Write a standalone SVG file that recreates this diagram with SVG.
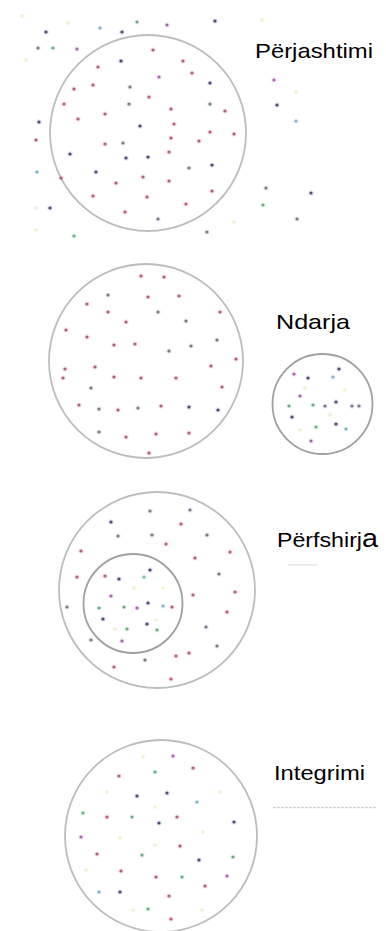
<svg xmlns="http://www.w3.org/2000/svg" width="386" height="931" viewBox="0 0 386 931">
<style>
.ring{fill:none;stroke:#bdbdbd;stroke-width:1.8}
.ring2{fill:none;stroke:#a0a0a0;stroke-width:1.8}
.lbl{font-family:"Liberation Sans",Arial,sans-serif;font-size:21px;fill:#000}
circle.d{stroke-width:2.4;stroke-opacity:.2}
.r{fill:#a8566e;stroke:#e08aa0}
.n{fill:#3e3e66;stroke:#8080b0}
.g{fill:#62a47c;stroke:#9ad0a8}
.p{fill:#9c5ca4;stroke:#d090d8}
.t{fill:#78aab6;stroke:#a8d4dc}
.k{fill:#6e6e80;stroke:#a8a8b8}
.y{fill:#f1f0d4;stroke:#f6f6e4}
</style>
<rect width="386" height="931" fill="#fff"/>

<g id="perjashtimi">
<circle class="ring" cx="148" cy="133" r="98"/>
<g>
<circle class="d r" cx="153" cy="50" r="1.6"/><circle class="d n" cx="121" cy="61" r="1.6"/><circle class="d r" cx="183" cy="61" r="1.6"/>
<circle class="d r" cx="98" cy="67" r="1.6"/><circle class="d p" cx="159" cy="77" r="1.6"/><circle class="d r" cx="192" cy="73" r="1.6"/>
<circle class="d n" cx="210" cy="83" r="1.6"/><circle class="d r" cx="93" cy="85" r="1.6"/><circle class="d r" cx="74" cy="89" r="1.6"/>
<circle class="d k" cx="130" cy="87" r="1.6"/><circle class="d r" cx="149" cy="97" r="1.6"/><circle class="d r" cx="64" cy="104" r="1.6"/>
<circle class="d k" cx="129" cy="104" r="1.6"/><circle class="d k" cx="210" cy="104" r="1.6"/><circle class="d r" cx="105" cy="114" r="1.6"/>
<circle class="d r" cx="171" cy="109" r="1.6"/><circle class="d r" cx="225" cy="111" r="1.6"/><circle class="d r" cx="78" cy="119" r="1.6"/>
<circle class="d r" cx="174" cy="124" r="1.6"/><circle class="d n" cx="140" cy="126" r="1.6"/><circle class="d r" cx="210" cy="132" r="1.6"/>
<circle class="d r" cx="234" cy="134" r="1.6"/><circle class="d r" cx="171" cy="138" r="1.6"/><circle class="d r" cx="199" cy="141" r="1.6"/>
<circle class="d r" cx="105" cy="144" r="1.6"/><circle class="d k" cx="123" cy="143" r="1.6"/><circle class="d n" cx="70" cy="154" r="1.6"/>
<circle class="d r" cx="169" cy="152" r="1.6"/><circle class="d n" cx="126" cy="158" r="1.6"/><circle class="d n" cx="148" cy="157" r="1.6"/>
<circle class="d k" cx="189" cy="168" r="1.6"/><circle class="d n" cx="212" cy="165" r="1.6"/><circle class="d n" cx="96" cy="172" r="1.6"/>
<circle class="d r" cx="61" cy="178" r="1.6"/><circle class="d r" cx="143" cy="177" r="1.6"/><circle class="d r" cx="116" cy="183" r="1.6"/>
<circle class="d r" cx="169" cy="181" r="1.6"/><circle class="d r" cx="93" cy="196" r="1.6"/><circle class="d r" cx="147" cy="197" r="1.6"/>
<circle class="d r" cx="212" cy="191" r="1.6"/><circle class="d r" cx="186" cy="204" r="1.6"/><circle class="d r" cx="125" cy="212" r="1.6"/>
<circle class="d k" cx="158" cy="219" r="1.6"/>
</g>
<g>
<circle class="d n" cx="46" cy="32" r="1.6"/><circle class="d t" cx="100" cy="28" r="1.6"/><circle class="d n" cx="122" cy="32" r="1.6"/>
<circle class="d g" cx="137" cy="22" r="1.6"/><circle class="d p" cx="167" cy="25" r="1.6"/><circle class="d n" cx="215" cy="21" r="1.6"/>
<circle class="d k" cx="38" cy="48" r="1.6"/><circle class="d g" cx="53" cy="48" r="1.6"/><circle class="d p" cx="77" cy="49" r="1.6"/>
<circle class="d p" cx="274" cy="80" r="1.6"/><circle class="d n" cx="277" cy="105" r="1.6"/><circle class="d t" cx="296" cy="121" r="1.6"/>
<circle class="d n" cx="39" cy="122" r="1.6"/><circle class="d r" cx="36" cy="140" r="1.6"/><circle class="d t" cx="37" cy="172" r="1.6"/>
<circle class="d n" cx="50" cy="208" r="1.6"/><circle class="d g" cx="74" cy="236" r="1.6"/><circle class="d k" cx="266" cy="188" r="1.6"/>
<circle class="d n" cx="311" cy="193" r="1.6"/><circle class="d g" cx="263" cy="205" r="1.6"/><circle class="d k" cx="297" cy="219" r="1.6"/>
<circle class="d k" cx="207" cy="232" r="1.6"/>
<circle class="d y" cx="22" cy="16" r="1.8"/><circle class="d y" cx="68" cy="23" r="1.8"/><circle class="d y" cx="26" cy="60" r="1.8"/>
<circle class="d y" cx="36" cy="230" r="1.8"/><circle class="d y" cx="262" cy="20" r="1.8"/><circle class="d y" cx="296" cy="92" r="1.8"/>
<circle class="d y" cx="234" cy="222" r="1.8"/><circle class="d y" cx="36" cy="208" r="1.8"/>
</g>
<text class="lbl" x="255" y="58" textLength="118" lengthAdjust="spacingAndGlyphs">Përjashtimi</text>
</g>

<g id="ndarja">
<circle class="ring" cx="146" cy="361" r="97"/>
<g>
<circle class="d r" cx="141" cy="276" r="1.6"/><circle class="d r" cx="164" cy="277" r="1.6"/><circle class="d k" cx="108" cy="295" r="1.6"/>
<circle class="d r" cx="148" cy="297" r="1.6"/><circle class="d r" cx="179" cy="296" r="1.6"/><circle class="d r" cx="87" cy="304" r="1.6"/>
<circle class="d r" cx="108" cy="312" r="1.6"/><circle class="d k" cx="158" cy="312" r="1.6"/><circle class="d r" cx="220" cy="312" r="1.6"/>
<circle class="d r" cx="126" cy="322" r="1.6"/><circle class="d k" cx="186" cy="321" r="1.6"/><circle class="d r" cx="66" cy="330" r="1.6"/>
<circle class="d r" cx="87" cy="337" r="1.6"/><circle class="d r" cx="114" cy="345" r="1.6"/><circle class="d r" cx="135" cy="344" r="1.6"/>
<circle class="d k" cx="191" cy="346" r="1.6"/><circle class="d k" cx="169" cy="351" r="1.6"/><circle class="d k" cx="217" cy="340" r="1.6"/>
<circle class="d r" cx="236" cy="359" r="1.6"/><circle class="d r" cx="211" cy="366" r="1.6"/><circle class="d r" cx="65" cy="369" r="1.6"/>
<circle class="d r" cx="95" cy="367" r="1.6"/><circle class="d r" cx="63" cy="378" r="1.6"/><circle class="d r" cx="114" cy="377" r="1.6"/>
<circle class="d r" cx="141" cy="378" r="1.6"/><circle class="d r" cx="176" cy="378" r="1.6"/><circle class="d k" cx="91" cy="388" r="1.6"/>
<circle class="d r" cx="222" cy="387" r="1.6"/><circle class="d r" cx="79" cy="405" r="1.6"/><circle class="d k" cx="99" cy="409" r="1.6"/>
<circle class="d r" cx="118" cy="410" r="1.6"/><circle class="d k" cx="138" cy="408" r="1.6"/><circle class="d r" cx="161" cy="406" r="1.6"/>
<circle class="d n" cx="189" cy="407" r="1.6"/><circle class="d n" cx="218" cy="410" r="1.6"/><circle class="d k" cx="99" cy="432" r="1.6"/>
<circle class="d r" cx="126" cy="437" r="1.6"/><circle class="d r" cx="156" cy="434" r="1.6"/><circle class="d r" cx="189" cy="433" r="1.6"/>
<circle class="d r" cx="149" cy="453" r="1.6"/>
</g>
<circle class="ring2" cx="322.5" cy="404" r="50"/>
<g>
<circle class="d n" cx="339" cy="369" r="1.6"/><circle class="d p" cx="294" cy="374" r="1.6"/><circle class="d n" cx="308" cy="378" r="1.6"/>
<circle class="d t" cx="333" cy="377" r="1.6"/><circle class="d p" cx="300" cy="396" r="1.6"/><circle class="d g" cx="289" cy="406" r="1.6"/>
<circle class="d g" cx="313" cy="405" r="1.6"/><circle class="d k" cx="325" cy="406" r="1.6"/><circle class="d n" cx="336" cy="402" r="1.6"/>
<circle class="d k" cx="352" cy="406" r="1.6"/><circle class="d k" cx="359" cy="406" r="1.6"/><circle class="d n" cx="292" cy="417" r="1.6"/>
<circle class="d g" cx="316" cy="427" r="1.6"/><circle class="d n" cx="336" cy="424" r="1.6"/><circle class="d t" cx="346" cy="429" r="1.6"/>
<circle class="d p" cx="311" cy="441" r="1.6"/>
<circle class="d y" cx="305" cy="388" r="1.8"/><circle class="d y" cx="345" cy="390" r="1.8"/><circle class="d y" cx="330" cy="415" r="1.8"/>
<circle class="d y" cx="300" cy="430" r="1.8"/>
</g>
<text class="lbl" x="276" y="329" textLength="74" lengthAdjust="spacingAndGlyphs">Ndarja</text>
</g>

<g id="perfshirja">
<circle class="ring" cx="157" cy="590" r="98"/>
<g>
<circle class="d k" cx="150" cy="511" r="1.6"/><circle class="d k" cx="190" cy="510" r="1.6"/><circle class="d n" cx="111" cy="522" r="1.6"/>
<circle class="d r" cx="181" cy="524" r="1.6"/><circle class="d k" cx="118" cy="536" r="1.6"/><circle class="d k" cx="152" cy="535" r="1.6"/>
<circle class="d k" cx="207" cy="535" r="1.6"/><circle class="d r" cx="166" cy="544" r="1.6"/><circle class="d r" cx="81" cy="551" r="1.6"/>
<circle class="d r" cx="230" cy="552" r="1.6"/><circle class="d r" cx="195" cy="558" r="1.6"/><circle class="d k" cx="219" cy="574" r="1.6"/>
<circle class="d r" cx="77" cy="577" r="1.6"/><circle class="d r" cx="235" cy="592" r="1.6"/><circle class="d r" cx="193" cy="595" r="1.6"/>
<circle class="d k" cx="67" cy="607" r="1.6"/><circle class="d r" cx="227" cy="612" r="1.6"/><circle class="d k" cx="206" cy="627" r="1.6"/>
<circle class="d k" cx="91" cy="640" r="1.6"/><circle class="d k" cx="217" cy="646" r="1.6"/><circle class="d r" cx="189" cy="653" r="1.6"/>
<circle class="d r" cx="176" cy="656" r="1.6"/><circle class="d k" cx="145" cy="660" r="1.6"/><circle class="d r" cx="114" cy="667" r="1.6"/>
<circle class="d r" cx="171" cy="679" r="1.6"/>
</g>
<circle class="ring2" cx="133" cy="603.5" r="49.5"/>
<g>
<circle class="d n" cx="150" cy="570" r="1.6"/><circle class="d n" cx="119" cy="579" r="1.6"/><circle class="d r" cx="105" cy="576" r="1.6"/>
<circle class="d t" cx="144" cy="577" r="1.6"/><circle class="d p" cx="111" cy="596" r="1.6"/><circle class="d n" cx="148" cy="603" r="1.6"/>
<circle class="d g" cx="99" cy="608" r="1.6"/><circle class="d g" cx="124" cy="607" r="1.6"/><circle class="d p" cx="137" cy="608" r="1.6"/>
<circle class="d t" cx="163" cy="606" r="1.6"/><circle class="d r" cx="172" cy="607" r="1.6"/><circle class="d n" cx="103" cy="619" r="1.6"/>
<circle class="d n" cx="147" cy="624" r="1.6"/><circle class="d g" cx="127" cy="629" r="1.6"/><circle class="d g" cx="157" cy="630" r="1.6"/>
<circle class="d p" cx="122" cy="641" r="1.6"/>
<circle class="d y" cx="134" cy="588" r="1.8"/><circle class="d y" cx="163" cy="588" r="1.8"/><circle class="d y" cx="115" cy="629" r="1.8"/>
<circle class="d y" cx="156" cy="620" r="1.8"/>
</g>
<text class="lbl" x="277" y="547" textLength="101" lengthAdjust="spacingAndGlyphs">Përfshirj<tspan font-size="26">a</tspan></text>
<rect x="288" y="564" width="29" height="2" fill="#ececec"/>
</g>

<g id="integrimi">
<circle class="ring" cx="161" cy="836" r="96"/>
<g>
<circle class="d p" cx="173" cy="756" r="1.6"/><circle class="d r" cx="193" cy="768" r="1.6"/><circle class="d r" cx="119" cy="776" r="1.6"/>
<circle class="d g" cx="155" cy="772" r="1.6"/><circle class="d n" cx="137" cy="796" r="1.6"/><circle class="d n" cx="167" cy="793" r="1.6"/>
<circle class="d t" cx="197" cy="802" r="1.6"/><circle class="d g" cx="83" cy="813" r="1.6"/><circle class="d r" cx="107" cy="817" r="1.6"/>
<circle class="d g" cx="132" cy="817" r="1.6"/><circle class="d n" cx="159" cy="823" r="1.6"/><circle class="d r" cx="177" cy="817" r="1.6"/>
<circle class="d n" cx="234" cy="822" r="1.6"/><circle class="d p" cx="81" cy="837" r="1.6"/><circle class="d r" cx="180" cy="846" r="1.6"/>
<circle class="d r" cx="97" cy="854" r="1.6"/><circle class="d g" cx="142" cy="855" r="1.6"/><circle class="d n" cx="199" cy="860" r="1.6"/>
<circle class="d g" cx="233" cy="857" r="1.6"/><circle class="d r" cx="121" cy="871" r="1.6"/><circle class="d r" cx="156" cy="877" r="1.6"/>
<circle class="d g" cx="182" cy="877" r="1.6"/><circle class="d p" cx="227" cy="876" r="1.6"/><circle class="d r" cx="205" cy="886" r="1.6"/>
<circle class="d t" cx="99" cy="892" r="1.6"/><circle class="d n" cx="120" cy="892" r="1.6"/><circle class="d r" cx="169" cy="896" r="1.6"/>
<circle class="d g" cx="148" cy="909" r="1.6"/><circle class="d r" cx="171" cy="919" r="1.6"/>
<circle class="d y" cx="143" cy="757" r="1.8"/><circle class="d y" cx="107" cy="792" r="1.8"/><circle class="d y" cx="220" cy="792" r="1.8"/>
<circle class="d y" cx="155" cy="807" r="1.8"/><circle class="d y" cx="120" cy="838" r="1.8"/><circle class="d y" cx="203" cy="832" r="1.8"/>
<circle class="d y" cx="155" cy="845" r="1.8"/><circle class="d y" cx="86" cy="870" r="1.8"/><circle class="d y" cx="133" cy="910" r="1.8"/>
<circle class="d y" cx="202" cy="910" r="1.8"/>
</g>
<text class="lbl" x="274" y="780" textLength="91" lengthAdjust="spacingAndGlyphs">Integrimi</text>
<line x1="273" y1="807.5" x2="377" y2="807.5" stroke="#d4d4d4" stroke-width="1.5" stroke-dasharray="3 1"/>
</g>
</svg>
